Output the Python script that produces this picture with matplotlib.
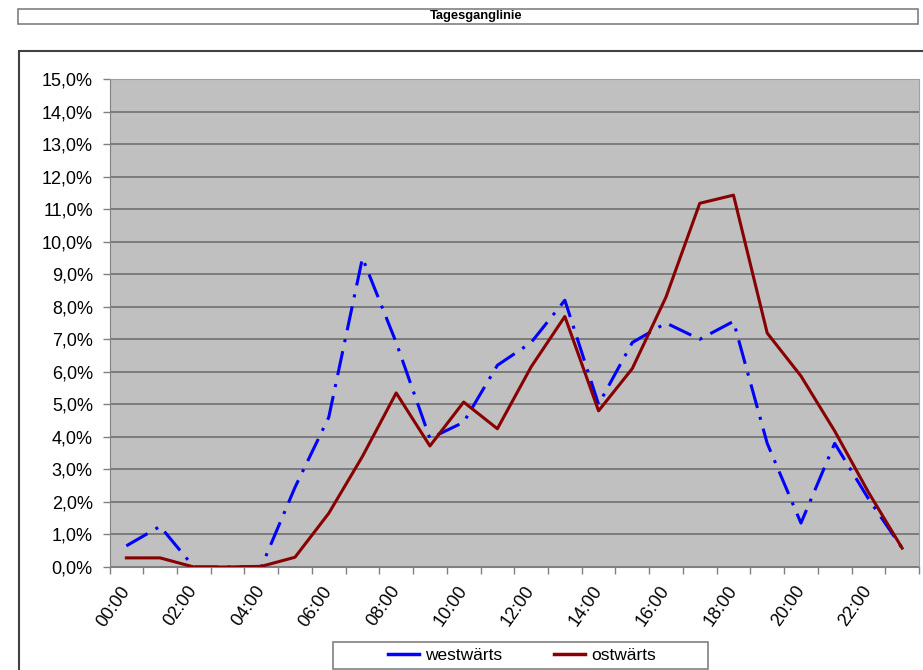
import numpy as np
import matplotlib
matplotlib.use("Agg")
import matplotlib.pyplot as plt
from matplotlib.patches import Rectangle
from matplotlib.lines import Line2D
from matplotlib.ticker import FuncFormatter, MultipleLocator

plt.rcParams['font.family'] = ['Liberation Sans', 'DejaVu Sans']

# hourly share of daily traffic, in percent
hours = ["%02d:00" % h for h in range(24)]
westwaerts = [0.65, 1.25, 0.0, 0.0, 0.0, 2.45, 4.6, 9.5, 6.9, 3.95, 4.45, 6.2,
              6.9, 8.2, 5.0, 6.9, 7.5, 7.0, 7.55, 3.8, 1.35, 3.8, 2.1, 0.58]
ostwaerts = [0.28, 0.28, 0.0, 0.0, 0.02, 0.3, 1.65, 3.4, 5.35, 3.72, 5.07, 4.25,
             6.15, 7.7, 4.8, 6.1, 8.3, 11.18, 11.43, 7.19, 5.87, 4.18, 2.3, 0.58]

W, H = 923, 670
fig = plt.figure(figsize=(W / 100, H / 100), dpi=100)
fig.patch.set_facecolor("white")

# title box at the top
fig.patches.append(Rectangle((18 / W, 1 - 24 / H), 900 / W, 15 / H,
                             transform=fig.transFigure, facecolor="white",
                             edgecolor="#808080", lw=1.2))
fig.text(476 / W, 1 - 16.5 / H, "Tagesganglinie", ha="center", va="center",
         fontsize=9.3, fontweight="bold")

# chart area frame (runs off the right and bottom edge)
fig.patches.append(Rectangle((19 / W, -0.1), 1.0, 1 - 51 / H + 0.1,
                             transform=fig.transFigure, facecolor="none",
                             edgecolor="#404040", lw=1.5, clip_on=False))

ax = fig.add_axes([109.5 / W, 1 - 567 / H, (919 - 109.5) / W, (567 - 79) / H])
ax.set_facecolor("#C0C0C0")

x = np.arange(len(hours))
ax.plot(x, westwaerts, color="#0000FF", lw=2.2, linestyle=(0, (8, 3, 1, 3)),
        zorder=3)
ax.plot(x, ostwaerts, color="#880000", lw=2.2, zorder=4)

ax.set_xlim(-0.5, 23.5)
ax.set_ylim(0, 15)
ax.yaxis.set_major_locator(MultipleLocator(1))
ax.yaxis.set_major_formatter(FuncFormatter(lambda v, p: ("%.1f%%" % v).replace(".", ",")))
ax.grid(axis="y", color="#707070", lw=1.2)
ax.set_axisbelow(True)

ax.set_xticks(np.arange(-0.5, 24, 1))
ax.set_xticklabels([])
ax.set_xticks(x[::2], minor=True)
ax.set_xticklabels(hours[::2], minor=True, rotation=55, ha="right", va="center",
                   rotation_mode="anchor", fontsize=13)
ax.tick_params(axis="x", which="major", length=5, color="#808080", width=1)
ax.tick_params(axis="x", which="minor", length=0, pad=15)
ax.tick_params(axis="y", length=5, color="#808080", width=1, labelsize=13, pad=7)

for side in ["top", "right"]:
    ax.spines[side].set_color("#A0A0A0")
ax.spines["left"].set_color("#808080")
ax.spines["bottom"].set_color("#808080")

# legend box drawn by hand, Excel style wide padding
fig.patches.append(Rectangle((333 / W, 1 - 669 / H), 375 / W, 27 / H,
                             transform=fig.transFigure, facecolor="white",
                             edgecolor="#808080", lw=1.2))
handles = [Line2D([], [], color="#0000FF", lw=2.5),
           Line2D([], [], color="#880000", lw=2.5)]
leg = fig.legend(handles, ["westwärts", "ostwärts"], loc="center",
                 bbox_to_anchor=(522 / W, 1 - 655.5 / H), ncol=2, fontsize=12.5,
                 frameon=False, handlelength=1.8, handletextpad=0.35,
                 columnspacing=3.0)

fig.savefig("out.png", dpi=100)
